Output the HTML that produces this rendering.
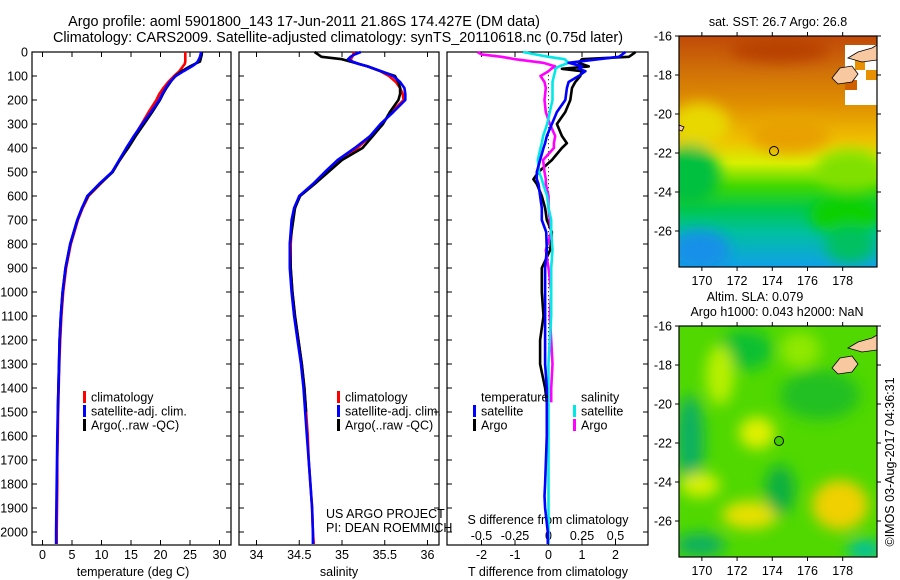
<!DOCTYPE html>
<html><head><meta charset="utf-8"><style>
body{margin:0;background:#fff;}
svg{display:block;font-family:"Liberation Sans",sans-serif;font-size:12.5px;}
</style></head><body>
<svg id="chart" width="900" height="580" viewBox="0 0 900 580">
<defs>
<filter id="blur6" x="-50%" y="-50%" width="200%" height="200%"><feGaussianBlur stdDeviation="7"/></filter>
<clipPath id="clipMap1"><rect x="679" y="36" width="198" height="231"/></clipPath>
<clipPath id="clipMap2"><rect x="679" y="326" width="198" height="231"/></clipPath>
<linearGradient id="sstGrad" x1="0" y1="0" x2="0" y2="1">
<stop offset="0" stop-color="#c04a08"/><stop offset="0.15" stop-color="#d07008"/>
<stop offset="0.3" stop-color="#e09000"/><stop offset="0.45" stop-color="#f0c000"/>
<stop offset="0.55" stop-color="#d8f000"/><stop offset="0.65" stop-color="#40d800"/>
<stop offset="0.75" stop-color="#00c850"/><stop offset="0.85" stop-color="#00c0a0"/>
<stop offset="1" stop-color="#10a0e8"/></linearGradient>
</defs>
<g id="texts" fill="#000">
<text x="304" y="26" text-anchor="middle" style="font-size:14.4px">Argo profile: aoml 5901800_143 17-Jun-2011 21.86S 174.427E (DM data)</text>
<text x="338" y="42" text-anchor="middle" style="font-size:14.4px">Climatology: CARS2009. Satellite-adjusted climatology: synTS_20110618.nc (0.75d later)</text>
<text x="133" y="576" text-anchor="middle">temperature (deg C)</text>
<text x="339" y="576" text-anchor="middle">salinity</text>
<text x="548" y="576" text-anchor="middle">T difference from climatology</text>
<text x="548" y="524" text-anchor="middle">S difference from climatology</text>
<text x="326" y="518">US ARGO PROJECT</text>
<text x="326" y="532">PI: DEAN ROEMMICH</text>
<text x="778" y="26" text-anchor="middle">sat. SST: 26.7 Argo: 26.8</text>
<text x="755" y="301" text-anchor="middle">Altim. SLA: 0.079</text>
<text x="777" y="316" text-anchor="middle">Argo h1000: 0.043 h2000: NaN</text>
<text transform="translate(894,462) rotate(-90)" text-anchor="middle">©IMOS 03-Aug-2017 04:36:31</text>
</g>
<g id="maps">
<g clip-path="url(#clipMap1)">
<rect x="679" y="36" width="198" height="231" fill="url(#sstGrad)"/>
<g filter="url(#blur6)">
<ellipse cx="700" cy="125" rx="30" ry="22" fill="#e8d800"/>
<ellipse cx="690" cy="175" rx="30" ry="30" fill="#00c040"/>
<ellipse cx="850" cy="170" rx="35" ry="20" fill="#80e000"/>
<ellipse cx="845" cy="215" rx="35" ry="20" fill="#10d000"/>
<ellipse cx="790" cy="135" rx="40" ry="18" fill="#e8a000"/>
<ellipse cx="700" cy="250" rx="30" ry="20" fill="#1890e8"/>
<ellipse cx="850" cy="245" rx="25" ry="18" fill="#00c060"/>
<ellipse cx="780" cy="50" rx="50" ry="12" fill="#b84000"/>
</g>
<rect x="845" y="45" width="32" height="60" fill="#fff"/>
<rect x="855" y="60" width="10" height="10" fill="#e89000"/><rect x="866" y="70" width="11" height="10" fill="#e89000"/>
<rect x="845" y="80" width="12" height="10" fill="#d06000"/>
<path d="M848,58 L858,52 L872,48 L877,45 L877,60 L862,62 Z" fill="#f8c8a0" stroke="#000" stroke-width="0.8"/>
<path d="M832,78 L840,68 L852,66 L858,74 L852,82 L838,84 Z" fill="#f8c8a0" stroke="#000" stroke-width="0.8"/>
<path d="M679,125 L684,127 L682,131 L679,130 Z" fill="#f8c8a0" stroke="#000" stroke-width="0.8"/>
<circle cx="774" cy="151" r="4.5" fill="none" stroke="#000" stroke-width="1"/>
</g>
<g clip-path="url(#clipMap2)">
<rect x="679" y="326" width="198" height="231" fill="#50d800"/>
<g filter="url(#blur6)">
<ellipse cx="745" cy="350" rx="28" ry="20" fill="#10c030"/>
<ellipse cx="720" cy="375" rx="14" ry="30" fill="#b8f000"/>
<ellipse cx="690" cy="440" rx="14" ry="45" fill="#10b060"/>
<ellipse cx="757" cy="433" rx="18" ry="16" fill="#e0f000"/>
<ellipse cx="820" cy="395" rx="40" ry="25" fill="#20c020"/>
<ellipse cx="840" cy="505" rx="28" ry="25" fill="#f0d000"/>
<ellipse cx="750" cy="515" rx="28" ry="14" fill="#e8e000"/>
<ellipse cx="700" cy="485" rx="20" ry="12" fill="#d8f000"/>
<ellipse cx="780" cy="490" rx="15" ry="25" fill="#10b040"/>
<ellipse cx="700" cy="545" rx="25" ry="12" fill="#10b060"/>
<ellipse cx="865" cy="550" rx="18" ry="10" fill="#00c0a0"/>
<ellipse cx="800" cy="350" rx="20" ry="18" fill="#90e800"/>
</g>
<path d="M848,348 L858,342 L872,338 L877,335 L877,350 L862,352 Z" fill="#f8c8a0" stroke="#000" stroke-width="0.8"/>
<path d="M832,368 L840,358 L852,356 L858,364 L852,372 L838,374 Z" fill="#f8c8a0" stroke="#000" stroke-width="0.8"/>
<circle cx="779" cy="441" r="4.5" fill="#40d000" stroke="#000" stroke-width="1"/>
</g>
</g>
<g id="axes"></g>
<g id="series"></g>
<g id="legends"></g>
</svg>
<script>
// ---- data ----
const depths = [0,10,20,30,40,50,60,80,100,125,150,175,200,250,300,350,400,450,500,550,600,650,700,800,900,1000,1100,1200,1300,1400,1500,1600,1700,1800,1900,2000,2050];
const tClim = [24.2,24.2,24.2,24.2,24.2,24.1,23.8,23.2,22.3,21.3,20.5,19.8,19.3,18.0,16.8,15.6,14.4,13.1,11.8,9.8,7.8,6.8,6.0,4.8,4.0,3.5,3.2,3.0,2.85,2.75,2.65,2.6,2.5,2.5,2.45,2.4,2.4];
const tSat = [26.9,26.8,26.7,26.5,26.3,25.9,25.3,23.9,22.6,21.6,20.9,20.3,19.8,18.4,16.9,15.5,14.2,13.0,11.8,9.6,7.6,6.7,5.9,4.7,3.9,3.4,3.1,2.9,2.8,2.7,2.6,2.5,2.45,2.4,2.35,2.3,2.3];
const argoDepths = [0,10,20,30,40,50,60,80,100,125,150,175,200,250,300,350,400,450,500,550,600,650,700,800,900,1000,1100,1200,1300,1400,1500];
const tArgo = [27.0,27.0,26.9,26.8,26.7,25.8,25.0,23.6,22.5,21.7,21.0,20.4,19.9,18.6,17.2,15.8,14.5,13.1,11.9,9.7,7.7,6.7,5.9,4.7,3.9,3.4,3.1,2.9,2.8,2.7,2.6];
const sClim = [35.15,35.13,35.12,35.1,35.12,35.2,35.3,35.45,35.55,35.63,35.68,35.71,35.72,35.58,35.47,35.33,35.18,34.98,34.82,34.67,34.5,34.45,34.42,34.4,34.4,34.42,34.45,34.49,34.53,34.56,34.58,34.6,34.61,34.63,34.65,34.66,34.67];
const sSat = [35.22,35.15,35.1,35.07,35.12,35.2,35.3,35.46,35.6,35.68,35.73,35.74,35.74,35.6,35.45,35.33,35.15,34.95,34.8,34.66,34.5,34.44,34.41,34.39,34.39,34.41,34.44,34.48,34.52,34.55,34.57,34.59,34.61,34.63,34.65,34.66,34.66];
const sArgo = [34.68,34.72,34.76,35.0,35.1,35.2,35.3,35.45,35.62,35.66,35.68,35.68,35.66,35.56,35.48,35.36,35.24,35.0,34.84,34.68,34.51,34.45,34.43,34.39,34.4,34.42,34.45,34.49,34.53,34.56,34.58];
const dDepths = [0,10,20,30,45,60,70,80,100,125,150,200,250,300,350,380,400,450,500,530,550,600,650,700,750,825,900,1000,1100,1200,1300,1400,1460];
const dTSat = [2.3,2.2,2.1,1.5,0.6,1.0,0.9,1.1,0.9,0.6,0.55,0.5,0.25,0.1,-0.05,-0.1,-0.15,-0.25,-0.35,-0.35,-0.3,-0.25,-0.2,-0.2,-0.07,-0.05,-0.1,-0.1,-0.1,-0.1,-0.1,-0.05,-0.05];
const dTArgo = [2.6,2.5,2.4,1.0,0.9,1.2,0.4,1.0,0.95,0.8,0.7,0.65,0.5,0.25,0.4,0.55,0.4,0.1,-0.3,-0.45,-0.35,-0.2,-0.1,-0.05,0.1,0.05,-0.2,-0.2,-0.15,-0.25,-0.25,-0.1,-0.05];
const dSSat = [-0.19,-0.1,0.0,0.12,0.15,0.08,0.05,0.05,0.04,0.03,0.03,0.03,0.01,-0.01,-0.04,-0.05,-0.06,-0.08,-0.07,-0.05,-0.04,-0.01,0.0,0.02,0.02,0.03,0.02,0.02,0.02,0.01,0.0,0.0,0.0];
const dSArgo = [-0.53,-0.5,-0.35,-0.25,-0.04,0.05,0.02,0.0,-0.06,-0.03,-0.02,-0.03,-0.02,0.01,0.05,0.04,0.04,-0.04,-0.03,-0.02,-0.02,0.0,0.0,0.01,0.02,-0.02,0.0,0.02,0.01,0.02,0.03,0.02,0.02];
const devDeepDepths = [1460,1600,1800,1850,1900,2000,2050];
const devDeepT = [-0.05,-0.05,-0.1,-0.12,-0.1,-0.02,-0.02];
const devDeepS = [0.0,0.0,0.0,0.0,0.0,0.0,0.0];
const depthTicks = [0,100,200,300,400,500,600,700,800,900,1000,1100,1200,1300,1400,1500,1600,1700,1800,1900,2000];
const tTicks = [0,5,10,15,20,25,30];
const sTicks = [34,34.5,35,35.5,36];
const sTickLabels = ["34","34.5","35","35.5","36"];
const tdTicks = [-2,-1,0,1,2];
const sdTicks = [-0.5,-0.25,0,0.25,0.5];
const sdTickLabels = ["-0.5","-0.25","0","0.25","0.5"];
const lonTicks = [170,172,174,176,178];
const latTicks = [-16,-18,-20,-22,-24,-26];

// ---- scales ----
const TOP=52, BOT=545;
const yD = d => TOP + d*0.24;
const xT = v => 42.5 + v*5.9;
const xS = v => 256.5 + (v-34)*85.5;
const xTD = v => 548.5 + v*33.5;
const xSD = v => 548.5 + v*134;
const panels = [{x0:32,x1:231,n:'temperature'},{x0:239,x1:439,n:'salinity'},{x0:447,x1:648,n:'difference'}];
const NS='http://www.w3.org/2000/svg';
function mk(tag, parent, attrs){const e=document.createElementNS(NS,tag);for(const k in attrs)e.setAttribute(k,attrs[k]);parent.appendChild(e);return e;}
const axes=document.getElementById('axes'), series=document.getElementById('series'), leg=document.getElementById('legends');

panels.forEach(p=>{
  const r=mk('rect',axes,{x:p.x0,y:TOP,width:p.x1-p.x0,height:BOT-TOP,fill:'none',stroke:'#000','stroke-width':1.2});
  
  
  depthTicks.forEach(d=>{
    mk('line',axes,{x1:p.x0,x2:p.x0+5,y1:yD(d),y2:yD(d),stroke:'#000'});
    mk('line',axes,{x1:p.x1,x2:p.x1-5,y1:yD(d),y2:yD(d),stroke:'#000'});
  });
});
depthTicks.forEach(d=>{
  const t=mk('text',axes,{x:28,y:yD(d)+4.5,'text-anchor':'end'}); t.textContent=d;
  
  
});
function xticks(vals, labels, f, ylab, top){
  vals.forEach((v,i)=>{
    mk('line',axes,{x1:f(v),x2:f(v),y1:BOT,y2:BOT-5,stroke:'#000'});
    if(top) mk('line',axes,{x1:f(v),x2:f(v),y1:TOP,y2:TOP+5,stroke:'#000'});
    if(ylab){const t=mk('text',axes,{x:f(v),y:ylab,'text-anchor':'middle'}); t.textContent=labels[i];
    
    }
  });
}
xticks(tTicks,tTicks.map(String),xT,559,true);
xticks(sTicks,sTickLabels,xS,559,true);
xticks(tdTicks,tdTicks.map(String),xTD,559,true);
sdTicks.forEach((v,i)=>{const t=mk('text',axes,{x:xSD(v),y:540,'text-anchor':'middle'}); t.textContent=sdTickLabels[i];
  
  });
mk('line',axes,{x1:xTD(0),x2:xTD(0),y1:yD(80),y2:BOT,stroke:'#000','stroke-dasharray':'1,3'});

function line(xs, ds, fx, color, name){
  const pts=xs.map((v,i)=>fx(v).toFixed(1)+','+yD(ds[i]).toFixed(1)).join(' ');
  const pl=mk('polyline',series,{points:pts,fill:'none',stroke:color,'stroke-width':2.6,'stroke-linejoin':'round'});
  
  
}
line(tClim,depths,xT,'#ff0000','temperature-climatology-line');
line(tArgo,argoDepths,xT,'#000000','temperature-argo-line');
line(tSat,depths,xT,'#0000ff','temperature-satellite-line');
line(sClim,depths,xS,'#ff0000','salinity-climatology-line');
line(sArgo,argoDepths,xS,'#000000','salinity-argo-line');
line(sSat,depths,xS,'#0000ff','salinity-satellite-line');
line(dTArgo,dDepths,xTD,'#000000','t-diff-argo-line');
line(dSArgo,dDepths,xSD,'#ff00ff','s-diff-argo-line');
line(dSSat,dDepths,xSD,'#00e8e8','s-diff-satellite-line');
line(devDeepS,devDeepDepths,xSD,'#00e8e8','s-diff-satellite-deep-line');
line(dTSat,dDepths,xTD,'#0000ff','t-diff-satellite-line');
line(devDeepT,devDeepDepths,xTD,'#0000ff','t-diff-satellite-deep-line');

function legendEntry(x,y,color,label,name){
  if(color) mk('rect',leg,{x:x,y:y-6,width:3,height:12,fill:color});
  const t=mk('text',leg,{x:x+8,y:y+4.5}); t.textContent=label;
  
  
}
[[83,'p1'],[337,'p2']].forEach(([x,p])=>{
  legendEntry(x,397,'#ff0000','climatology',p+'-legend-climatology');
  legendEntry(x,411,'#0000ff','satellite-adj. clim.',p+'-legend-satellite');
  legendEntry(x,425,'#000000','Argo(..raw -QC)',p+'-legend-argo');
});
legendEntry(473,397,null,'temperature','legend-temperature-header');
legendEntry(473,411,'#0000ff','satellite','legend-t-satellite');
legendEntry(473,425,'#000000','Argo','legend-t-argo');
legendEntry(573,397,null,'salinity','legend-salinity-header');
legendEntry(573,411,'#00e8e8','satellite','legend-s-satellite');
legendEntry(573,425,'#ff00ff','Argo','legend-s-argo');

// maps axes
const lonX = v => 679 + (v-168.7)*17.6;
[[36,267,285],[326,557,575]].forEach(([y0,y1,ly],mi)=>{
  const r=mk('rect',axes,{x:679,y:y0,width:198,height:y1-y0,fill:'none',stroke:'#000','stroke-width':1.2});
  
  
  const latY = v => y0 + (-16-v)*19.5;
  lonTicks.forEach(v=>{
    mk('line',axes,{x1:lonX(v),x2:lonX(v),y1:y1,y2:y1+4,stroke:'#000'});
    mk('line',axes,{x1:lonX(v),x2:lonX(v),y1:y0,y2:y0-4,stroke:'#000'});
    const t=mk('text',axes,{x:lonX(v),y:ly,'text-anchor':'middle'}); t.textContent=v;
    
    
  });
  latTicks.forEach(v=>{
    mk('line',axes,{x1:679,x2:675,y1:latY(v),y2:latY(v),stroke:'#000'});
    mk('line',axes,{x1:877,x2:881,y1:latY(v),y2:latY(v),stroke:'#000'});
    const t=mk('text',axes,{x:672,y:latY(v)+4.5,'text-anchor':'end'}); t.textContent=v;
    
    
  });
});
</script>
</body></html>
